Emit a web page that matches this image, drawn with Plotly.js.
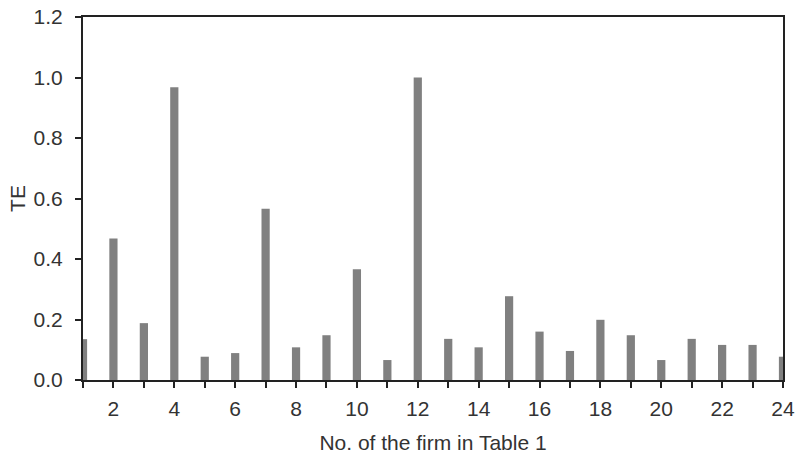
<!DOCTYPE html>
<html>
<head>
<meta charset="utf-8">
<script src="https://cdn.plot.ly/plotly-3.0.1.min.js"></script>
<style>html,body{margin:0;padding:0;background:#fff}#chart{width:798px;height:454px}</style>
</head>
<body>
<div id="chart"></div>
<script>
const firms = [1,2,3,4,5,6,7,8,9,10,11,12,13,14,15,16,17,18,19,20,21,22,23,24];
const teValues = [0.135,0.468,0.188,0.968,0.077,0.089,0.566,0.108,0.148,0.366,0.066,1.0,0.136,0.108,0.277,0.16,0.096,0.199,0.148,0.066,0.136,0.116,0.116,0.077];
const xTitle = 'No. of the firm in Table 1';
const yTitle = 'TE';

const fontFam = 'Liberation Sans, Arial, sans-serif';
Plotly.newPlot('chart', [{
  type: 'bar',
  x: firms,
  y: teValues,
  width: 0.27,
  marker: {color: '#808080', line: {width: 0}},
  hoverinfo: 'x+y'
}], {
  width: 798, height: 454,
  margin: {l: 83, r: 15, t: 17, b: 74},
  paper_bgcolor: '#fff', plot_bgcolor: '#fff',
  showlegend: false,
  font: {family: fontFam, size: 21, color: '#333'},
  xaxis: {
    range: [1, 24],
    tick0: 0, dtick: 2,
    ticks: 'outside', ticklen: 6, tickwidth: 2, tickcolor: '#222',
    minor: {dtick: 1, ticks: 'outside', ticklen: 6, tickwidth: 2, tickcolor: '#222', showgrid: false},
    showline: true, linecolor: '#222', linewidth: 2, mirror: true,
    showgrid: false, zeroline: false,
    ticklabelstandoff: 3,
    tickfont: {size: 21, color: '#333'},
    title: {text: xTitle, font: {size: 21, color: '#333'}, standoff: 16}
  },
  yaxis: {
    range: [0, 1.2],
    dtick: 0.2, tickformat: '.1f',
    ticks: 'outside', ticklen: 6, tickwidth: 2, tickcolor: '#222',
    showline: true, linecolor: '#222', linewidth: 2, mirror: true,
    showgrid: false, zeroline: false,
    ticklabelstandoff: 8,
    tickfont: {size: 21, color: '#333'},
    title: {text: yTitle, font: {size: 21, color: '#333'}, standoff: 2}
  }
}, {displayModeBar: false, staticPlot: true});
</script>
</body>
</html>
